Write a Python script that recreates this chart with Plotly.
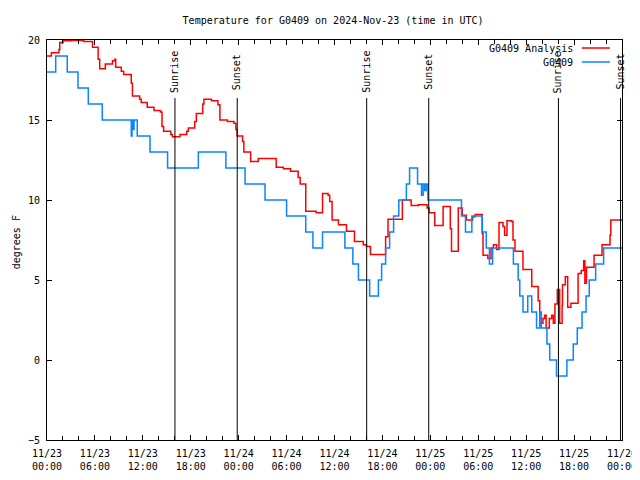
import plotly.graph_objects as go

# Hours since 2024-11-23 00:00 UTC
analysis_hours = [0.0, 0.55, 1.5, 1.6, 2.0, 3.0, 4.6, 5.7, 6.4, 6.6, 7.3, 8.2, 8.5, 8.6, 9.3, 9.6,
                  10.55, 10.7, 11.6, 11.8, 12.55, 13.4, 14.2, 14.4, 14.6, 15.5, 15.7, 16.65, 17.5, 17.7,
                  18.5, 18.7, 19.5, 19.65, 20.6, 21.4, 21.65, 22.6, 23.4, 23.65, 23.8, 24.5, 24.65, 25.5,
                  26.45, 28.7, 29.6, 30.5, 31.45, 31.7, 32.4, 33.7, 34.5, 35.2, 35.4, 35.7, 36.5, 37.5,
                  38.5, 39.6, 40.0, 40.5, 42.4, 42.7, 44.5, 45.6, 46.5, 47.6, 47.85, 48.55, 49.6, 50.5,
                  50.65, 51.5, 52.0, 52.5, 53.3, 53.6, 54.5, 54.6, 55.2, 55.6, 55.9, 56.3, 56.6, 57.1,
                  57.3, 57.6, 58.2, 58.35, 58.6, 59.6, 60.7, 61.5, 61.7, 62.1, 62.3, 62.5, 62.9, 63.2,
                  63.4, 63.6, 63.9, 64.2, 64.5, 64.55, 64.9, 65.2, 65.6, 66.5, 66.9, 67.2, 67.35, 67.55,
                  68.5, 69.5, 70.5, 70.6, 72.0]
analysis_temp = [19.0, 19.2, 19.4, 19.85, 19.95, 19.97, 19.9, 19.55, 18.8, 18.2, 18.5, 18.7, 18.8, 18.3, 18.05, 17.85,
                 17.3, 16.5, 16.3, 16.1, 15.8, 15.6, 15.5, 14.6, 14.3, 14.1, 13.95, 14.1, 14.3, 14.5,
                 14.9, 15.4, 16.0, 16.3, 16.2, 15.95, 15.0, 14.9, 14.8, 14.4, 14.0, 13.65, 13.0, 12.4,
                 12.6, 12.05, 11.95, 11.8, 11.4, 11.0, 9.3, 9.2, 10.4, 10.3, 9.9, 8.75, 8.45, 8.05,
                 7.4, 7.2, 7.1, 6.6, 7.7, 8.8, 10.0, 9.65, 9.7, 9.5, 9.2, 8.4, 9.6, 8.2,
                 6.8, 9.5, 9.05, 8.75, 8.95, 9.1, 7.9, 6.55, 6.35, 7.0, 7.2, 6.9, 8.6, 8.35,
                 7.8, 8.7, 8.65, 7.5, 6.8, 5.65, 4.6, 3.7, 2.3, 2.6, 2.8, 2.0, 2.6, 2.8,
                 2.3, 3.5, 4.4, 2.3, 3.4, 4.7, 5.2, 3.3, 3.55, 5.4, 5.6, 6.2, 4.8, 5.8,
                 6.55, 7.2, 7.8, 8.75, 8.75]

obs_hours = [0.0, 1.09, 2.54, 3.88, 5.17, 6.92, 10.55, 10.65, 10.8, 10.9, 11.3, 12.9, 15.1, 18.95,
             22.4, 24.8, 27.3, 30.0, 32.4, 33.3, 34.5, 37.3, 38.3, 39.0, 40.4, 41.5, 41.9, 42.4,
             42.9, 43.4, 44.05, 45.0, 45.4, 46.4, 46.9, 47.1, 47.3, 47.5, 47.7, 51.9, 52.4, 53.2,
             54.5, 55.0, 55.4, 55.8, 58.4, 59.0, 59.2, 59.6, 60.2, 60.7, 61.3, 61.7, 61.9, 62.6,
             62.95, 63.8, 65.1, 65.9, 66.4, 67.0, 67.5, 67.9, 68.7, 69.7, 72.0]
obs_temp = [18, 19, 18, 17, 16, 15, 14, 15, 14.4, 15, 14, 13, 12, 13,
            12, 11, 10, 9, 8, 7, 8, 7, 6, 5, 4, 5, 6, 7,
            8, 9, 10, 11, 12, 11, 10.3, 11, 10.6, 11, 10, 9, 8, 9,
            8, 7, 6, 7, 6, 5, 4, 3, 4, 3, 2, 3, 2, 1,
            0, -1, 0, 1, 2, 3, 4, 5, 6, 7, 7]

sun_hours = [16.02, 23.82, 40.03, 47.8, 64.04, 71.82]
sun_labels = ["Sunrise", "Sunset", "Sunrise", "Sunset", "Sunrise", "Sunset"]

xtick_vals = [0, 6, 12, 18, 24, 30, 36, 42, 48, 54, 60, 66, 72]
xtick_text = ["11/23<br>00:00", "11/23<br>06:00", "11/23<br>12:00", "11/23<br>18:00",
              "11/24<br>00:00", "11/24<br>06:00", "11/24<br>12:00", "11/24<br>18:00",
              "11/25<br>00:00", "11/25<br>06:00", "11/25<br>12:00", "11/25<br>18:00",
              "11/26<br>00:00"]
ytick_vals = [-5, 0, 5, 10, 15, 20]

series_names = ["G0409 Analysis", "G0409"]
series_colors = ["#ff0000", "#0a84ff"]

FONT = "DejaVu Sans Mono"

fig = go.Figure()
fig.add_trace(go.Scatter(x=analysis_hours, y=analysis_temp, mode="lines", line_shape="hv",
                         line=dict(color=series_colors[0], width=1.5), name=series_names[0],
                         showlegend=False))
fig.add_trace(go.Scatter(x=obs_hours, y=obs_temp, mode="lines", line_shape="hv",
                         line=dict(color=series_colors[1], width=1.5), name=series_names[1],
                         showlegend=False))

shapes = []
annotations = []
for h, lab in zip(sun_hours, sun_labels):
    shapes.append(dict(type="line", xref="x", yref="paper", x0=h, x1=h, y0=0, y1=0.855,
                       line=dict(color="black", width=1)))
    annotations.append(dict(x=h, y=0.92, xref="x", yref="paper", text=lab, textangle=-90,
                            xanchor="center", yanchor="middle",
                            showarrow=False, font=dict(family=FONT, size=10, color="black")))

# manual legend (text left of sample line, as in reference)
leg_y = [0.98, 0.945]
for name, col, ly in zip(series_names, series_colors, leg_y):
    annotations.append(dict(x=0.919, y=ly, xref="paper", yref="paper", text=name, xanchor="right",
                            yanchor="middle",
                            showarrow=False, font=dict(family=FONT, size=10, color="black")))
    shapes.append(dict(type="line", xref="paper", yref="paper", x0=0.93, x1=0.979, y0=ly, y1=ly,
                       line=dict(color=col, width=1.5)))

annotations.append(dict(x=-0.0665, y=0.495, xref="paper", yref="paper", text="degrees F", textangle=-90,
                        xanchor="left", yanchor="middle",
                        showarrow=False, font=dict(family=FONT, size=10, color="black")))

# page body has an 8px margin; figure is sized so the plot lands where the reference has it
fig.update_layout(
    width=640, height=472,
    margin=dict(l=39, r=26, t=32, b=40, autoexpand=False),
    paper_bgcolor="white", plot_bgcolor="white",
    title=dict(text="Temperature for G0409 on 2024-Nov-23 (time in UTC)", x=0.508, xanchor="center",
               y=1 - 12 / 472, yanchor="middle", font=dict(family=FONT, size=10, color="black")),
    font=dict(family=FONT, size=10, color="black"),
    shapes=shapes, annotations=annotations,
    showlegend=False,
)
fig.update_xaxes(range=[0, 72], tickmode="array", tickvals=xtick_vals, ticktext=xtick_text,
                 ticks="inside", ticklen=5, tickcolor="black", showline=True, linecolor="black",
                 linewidth=1, mirror="ticks", showgrid=False, zeroline=False, automargin=False,
                 ticklabeloverflow="allow", ticklabelstandoff=4,
                 minor=dict(tickmode="linear", tick0=0, dtick=2, ticks="inside", ticklen=4,
                            tickcolor="black", showgrid=False),
                 tickfont=dict(family=FONT, size=10, color="black"))
fig.update_yaxes(range=[-5, 20], tickmode="array", tickvals=ytick_vals,
                 ticks="inside", ticklen=5, tickcolor="black", showline=True, linecolor="black",
                 linewidth=1, mirror="ticks", showgrid=False, zeroline=False, automargin=False,
                 ticklabelstandoff=4,
                 tickfont=dict(family=FONT, size=10, color="black"))

fig.write_html("out.html")
